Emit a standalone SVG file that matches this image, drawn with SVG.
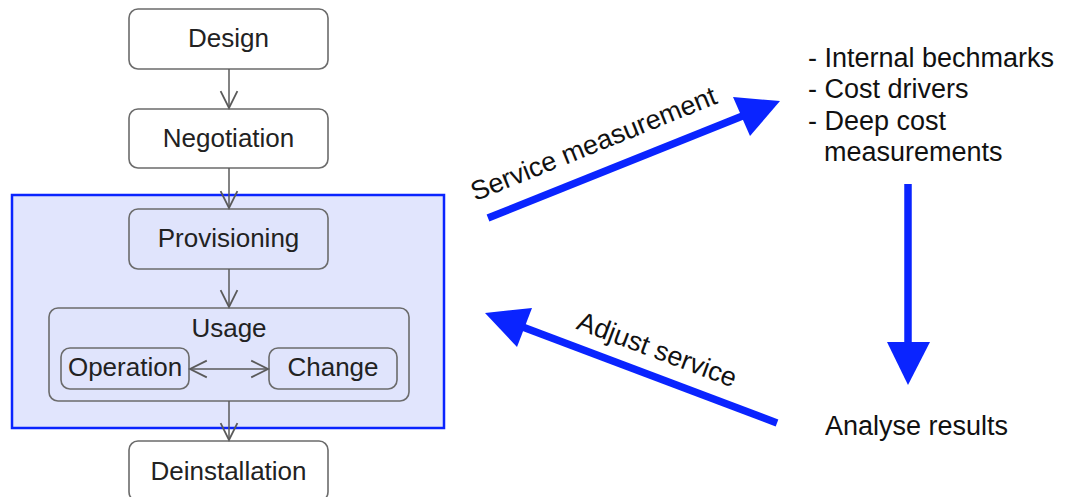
<svg xmlns="http://www.w3.org/2000/svg" width="1070" height="497" viewBox="0 0 1070 497">
  <style>
    .box { fill: #ffffff; stroke: #6b6b6b; stroke-width: 1.6; }
    .inner { fill: #e0e4fc; stroke: #6b6b6b; stroke-width: 1.6; }
    .lbl { font-family: "Liberation Sans", Arial, sans-serif; font-size: 26px; fill: #222222; text-anchor: middle; }
    .note { font-family: "Liberation Sans", Arial, sans-serif; font-size: 27px; fill: #111111; }
    .flow { stroke: #5a5a5a; stroke-width: 1.5; fill: none; }
    .big { stroke: #0a24ff; stroke-width: 7.5; fill: none; }
    .head { fill: #0a24ff; }
  </style>
  <defs>
    <marker id="open" markerUnits="userSpaceOnUse" markerWidth="24" markerHeight="24" refX="16" refY="10" orient="auto-start-reverse" viewBox="0 0 20 20">
      <path d="M2,3 L16,10 L2,17" fill="none" stroke="#5a5a5a" stroke-width="1.5"/>
    </marker>
  </defs>

  <!-- lifecycle container -->
  <g id="lifecycle">
    <rect x="12" y="195" width="432" height="233" fill="#e1e5fd" stroke="#0a24ff" stroke-width="2.5"/>
  </g>

  <g id="design">
    <rect class="box" x="129" y="9" width="199" height="60" rx="9"/>
    <text class="lbl" x="228.5" y="47">Design</text>
  </g>
  <g id="negotiation">
    <rect class="box" x="129" y="109" width="199" height="59" rx="9"/>
    <text class="lbl" x="228.5" y="147">Negotiation</text>
  </g>
  <g id="provisioning">
    <rect class="inner" x="129" y="209" width="199" height="60" rx="9"/>
    <text class="lbl" x="228.5" y="247">Provisioning</text>
  </g>
  <g id="usage">
    <rect class="inner" x="49" y="308" width="360" height="93" rx="9"/>
    <text class="lbl" x="229" y="337">Usage</text>
  </g>
  <g id="operation">
    <rect class="inner" x="61" y="348" width="128" height="41" rx="9"/>
    <text class="lbl" x="125" y="376">Operation</text>
  </g>
  <g id="change">
    <rect class="inner" x="269" y="348" width="128" height="41" rx="9"/>
    <text class="lbl" x="333" y="376">Change</text>
  </g>
  <g id="deinstallation">
    <rect class="box" x="129" y="441" width="199" height="60" rx="9"/>
    <text class="lbl" x="228.5" y="480">Deinstallation</text>
  </g>

  <g id="notes">
    <text class="note" x="808" y="67">- Internal bechmarks</text>
    <text class="note" x="808" y="98">- Cost drivers</text>
    <text class="note" x="808" y="130">- Deep cost</text>
    <text class="note" x="824" y="161">measurements</text>
  </g>
  <g id="analyse">
    <text class="note" x="825" y="435">Analyse results</text>
  </g>

  <!-- connectors -->
  <g id="connectors">
    <line class="flow" x1="229" y1="69" x2="229" y2="108" marker-end="url(#open)"/>
    <line class="flow" x1="229" y1="168" x2="229" y2="208" marker-end="url(#open)"/>
    <line class="flow" x1="229" y1="269" x2="229" y2="307" marker-end="url(#open)"/>
    <line class="flow" x1="229" y1="401" x2="229" y2="440" marker-end="url(#open)"/>
    <line class="flow" x1="190" y1="369" x2="268" y2="369" marker-start="url(#open)" marker-end="url(#open)"/>

    <!-- service measurement -->
    <line class="big" x1="488" y1="218" x2="745" y2="115"/>
    <polygon class="head" points="780,101 733,97 750,136"/>
    <text class="note" x="597" y="152" text-anchor="middle" transform="rotate(-22 597 152)">Service measurement</text>

    <!-- down to analysis -->
    <line class="big" x1="908" y1="184" x2="908" y2="345"/>
    <polygon class="head" points="887,342 930,342 908,385"/>

    <!-- adjust service -->
    <line class="big" x1="777" y1="423" x2="520" y2="326"/>
    <polygon class="head" points="485,313 532,308 517,347"/>
    <text class="note" x="654" y="358" text-anchor="middle" transform="rotate(20.6 654 358)">Adjust service</text>
  </g>
</svg>
